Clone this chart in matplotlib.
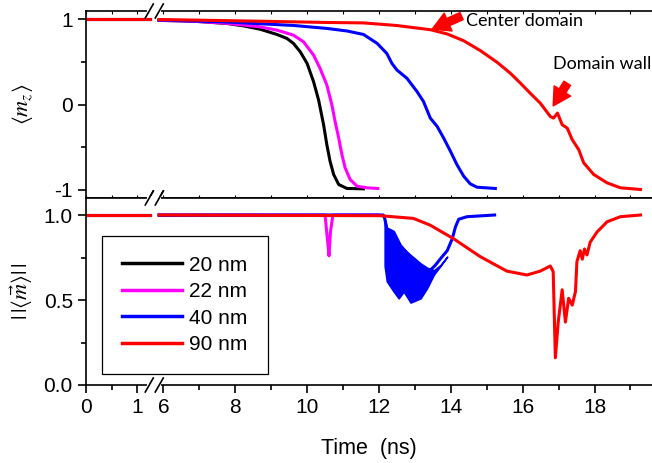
import matplotlib.pyplot as plt
import numpy as np

# ---- data ----
left_t = [0.0, 1.25]
left_v = [1.0, 1.0]

# <m_z> (upper panel)
t20 = [5.88, 6.84, 7.77, 8.23, 8.69, 9.16, 9.44, 9.62, 9.81, 10.0, 10.18, 10.32, 10.46, 10.55, 10.64, 10.74, 10.88, 11.11, 11.57]
mz20 = [0.99, 0.98, 0.953, 0.925, 0.886, 0.824, 0.777, 0.719, 0.62, 0.484, 0.269, 0.054, -0.239, -0.473, -0.668, -0.824, -0.941, -0.988, -0.992]

t22 = [5.88, 6.84, 7.77, 8.23, 8.69, 9.16, 9.62, 9.90, 10.18, 10.36, 10.55, 10.69, 10.78, 10.88, 10.97, 11.06, 11.2, 11.39, 11.66, 11.97]
mz22 = [0.99, 0.98, 0.955, 0.935, 0.913, 0.875, 0.816, 0.738, 0.582, 0.426, 0.23, -0.004, -0.2, -0.394, -0.59, -0.746, -0.883, -0.961, -0.98, -0.988]

t40 = [5.88, 7.77, 8.69, 9.62, 10.55, 11.11, 11.57, 11.95, 12.22, 12.36, 12.5, 12.78, 13.06, 13.24, 13.43, 13.62, 13.8, 13.99, 14.17, 14.36, 14.54, 14.73, 15.24]
mz40 = [0.995, 0.97, 0.95, 0.93, 0.895, 0.865, 0.824, 0.719, 0.60, 0.484, 0.406, 0.308, 0.152, 0.035, -0.16, -0.258, -0.394, -0.55, -0.707, -0.844, -0.933, -0.973, -0.988]

t90 = [5.88, 8.69, 10.55, 11.57, 12.5, 13.43, 13.9, 14.36, 14.83, 15.29, 15.66, 15.94, 16.21, 16.49, 16.77, 16.86, 16.97, 17.1, 17.24, 17.38, 17.56, 17.7, 17.98, 18.35, 18.72, 19.28]
mz90 = [1.0, 0.98, 0.965, 0.96, 0.929, 0.88, 0.83, 0.75, 0.632, 0.496, 0.367, 0.25, 0.133, 0.016, -0.141, -0.16, -0.101, -0.238, -0.277, -0.414, -0.531, -0.687, -0.824, -0.922, -0.98, -1.0]

# ||<m>|| (lower panel)
n20_t = [5.88, 11.57]
n20 = [1.0, 1.0]

n22_t = [5.88, 10.5, 10.57, 10.61, 10.65, 10.72, 11.97]
n22 = [1.0, 1.0, 0.85, 0.76, 0.9, 1.0, 1.0]

n40_t = [5.88, 12.12, 12.16, 12.22, 12.41, 12.6, 12.83, 12.97, 13.1, 13.43, 13.57, 13.76, 13.9, 14.04, 14.13, 14.22, 14.45, 15.22]
n40 = [1.0, 1.0, 0.98, 0.92, 0.90, 0.82, 0.765, 0.715, 0.69, 0.675, 0.705, 0.755, 0.79, 0.86, 0.93, 0.975, 0.99, 1.0]
# envelope of the fast oscillation
env_t = [12.16, 12.22, 12.41, 12.55, 12.69, 12.88, 13.16, 13.34, 13.53, 13.71, 13.9]
env_hi = [0.98, 0.92, 0.90, 0.83, 0.80, 0.765, 0.715, 0.69, 0.675, 0.705, 0.755]
env_lo = [0.70, 0.61, 0.55, 0.51, 0.55, 0.485, 0.51, 0.57, 0.65, 0.70, 0.755]

n90_t = [5.88, 12.03, 12.96, 13.43, 14.08, 14.82, 15.56, 16.12, 16.49, 16.77, 16.85, 16.91, 16.99, 17.1, 17.19, 17.28, 17.38, 17.47, 17.51, 17.6, 17.66, 17.72, 17.79, 17.88, 18.07, 18.35, 18.72, 19.28]
n90 = [1.0, 0.996, 0.98, 0.94, 0.86, 0.755, 0.67, 0.647, 0.67, 0.70, 0.667, 0.16, 0.37, 0.56, 0.37, 0.51, 0.47, 0.55, 0.725, 0.79, 0.74, 0.80, 0.765, 0.84, 0.90, 0.96, 0.99, 1.0]

labels = ['20 nm', '22 nm', '40 nm', '90 nm']
colors = ['black', '#ff00ff', '#0000ff', '#ff0000']

# ---- broken time axis ----
K1 = 51 / 35.9
OFF = 3.847
A, B = 1.3, 5.8
UA, UB = A * K1, B - OFF


def fwd(t):
    t = np.asarray(t, float)
    mid = UA + (t - A) * (UB - UA) / (B - A)
    return np.where(t <= A, t * K1, np.where(t >= B, t - OFF, mid))


def inv(u):
    u = np.asarray(u, float)
    mid = A + (u - UA) * (B - A) / (UB - UA)
    return np.where(u <= UA, u / K1, np.where(u >= UB, u + OFF, mid))


XMAX = 19.6
plt.rcParams['font.family'] = ['Liberation Sans', 'DejaVu Sans']
plt.rcParams['mathtext.fontset'] = 'stix'
plt.rcParams['axes.unicode_minus'] = False

fig = plt.figure(figsize=(6.52, 4.63), dpi=100)
W, H = 652, 463
ax1 = fig.add_axes([86 / W, 1 - 198 / H, 566 / W, 187 / H])
ax2 = fig.add_axes([86 / W, 1 - 385 / H, 566 / W, 187 / H])

ups = [(t20, mz20), (t22, mz22), (t40, mz40), (t90, mz90)]
lows = [(n20_t, n20), (n22_t, n22), (n40_t, n40), (n90_t, n90)]
for (tu, vu), (tl, vl), c, lab in zip(ups, lows, colors, labels):
    ax1.plot(left_t, left_v, color=c, lw=2.2)
    ax1.plot(tu, vu, color=c, lw=2.2)
    ax2.plot(left_t, left_v, color=c, lw=2.2)
    ax2.plot(tl, vl, color=c, lw=2.2, label=lab)
    if c == '#0000ff':
        ax2.fill_between(env_t, env_lo, env_hi, color=c, lw=1.2, edgecolor=c)

major = [0, 1, 6, 8, 10, 12, 14, 16, 18]
minor = [0.5, 7, 9, 11, 13, 15, 17, 19]
for ax in (ax1, ax2):
    ax.set_xscale('function', functions=(fwd, inv))
    ax.set_xlim(0, XMAX)
    ax.xaxis.set_major_locator(plt.FixedLocator(major))
    ax.xaxis.set_minor_locator(plt.FixedLocator(minor))
    ax.spines['right'].set_visible(False)
    for s in ('left', 'top', 'bottom'):
        ax.spines[s].set_linewidth(1.2)
    ax.tick_params(axis='y', which='major', direction='out', length=6, width=1.2, labelsize=15)
    ax.tick_params(axis='y', which='minor', direction='out', length=3.5, width=1.2)

ax1.set_ylim(-1.1, 1.1)
ax1.set_yticks([-1, 0, 1])
ax1.set_yticks([-0.5, 0.5], minor=True)
ax1.tick_params(axis='x', which='both', direction='in', top=True, bottom=True,
                labelbottom=False, length=2.5, width=0.8)

ax2.set_ylim(0, 1.1)
ax2.set_yticks([0.0, 0.5, 1.0])
ax2.set_yticklabels(['0.0', '0.5', '1.0'])
ax2.set_yticks([0.25, 0.75], minor=True)
ax2.set_xticklabels(['0', '1', '6', '8', '10', '12', '14', '16', '18'])
ax2.tick_params(axis='x', which='major', direction='out', length=6, width=1.2, labelsize=15)
ax2.tick_params(axis='x', which='minor', direction='out', length=3.5, width=1.2)
ax2.set_xlabel('Time  (ns)', fontsize=15.5, labelpad=15)

ax1.set_ylabel(r'$\langle m_z\rangle$', fontsize=16)
ax2.set_ylabel(r'$|\,|\langle\vec{m}\rangle|\,|$', fontsize=16)
ax1.yaxis.set_label_coords(-0.09, 0.5)
ax2.yaxis.set_label_coords(-0.09, 0.5)

leg = ax2.legend(loc='upper left', bbox_to_anchor=(0.028, 0.797), borderaxespad=0,
                 fontsize=15, handlelength=2.9, handletextpad=0.35, labelspacing=0.36,
                 fancybox=False, edgecolor='black', framealpha=1, borderpad=0.95)
leg.get_frame().set_linewidth(0.9)
for h in leg.get_lines():
    h.set_linewidth(2.5)

# break marks
def axfrac(t):
    return float((fwd(t) - fwd(0)) / (fwd(XMAX) - fwd(0)))

xb = axfrac((A + B) / 2)
dx, dy, sep = 4 / 566, 7 / 187, 5 / 566
for ax in (ax1, ax2):
    for y in (0, 1):
        ax.plot([xb - sep, xb + sep], [y, y], color='white', lw=3, transform=ax.transAxes,
                clip_on=False, zorder=5)
        for s in (-sep, sep):
            ax.plot([xb + s - dx, xb + s + dx], [y - dy, y + dy], color='black', lw=1.2,
                    transform=ax.transAxes, clip_on=False, zorder=6)

# annotations
arrow = dict(arrowstyle='simple,head_width=1.0,head_length=0.9,tail_width=0.4',
             color='red', mutation_scale=14, shrinkA=0, shrinkB=0)
ax1.annotate('', xy=(13.48, 0.886), xytext=(14.3, 1.04), arrowprops=arrow)
ax1.text(14.42, 0.98, 'Center domain', fontsize=13, family='Lato', va='center', ha='left')
ax1.annotate('', xy=(16.85, -0.016), xytext=(17.24, 0.25), arrowprops=arrow)
ax1.text(16.85, 0.476, 'Domain wall', fontsize=13, family='Lato', va='center', ha='left')

fig.savefig('out.png', dpi=100)
